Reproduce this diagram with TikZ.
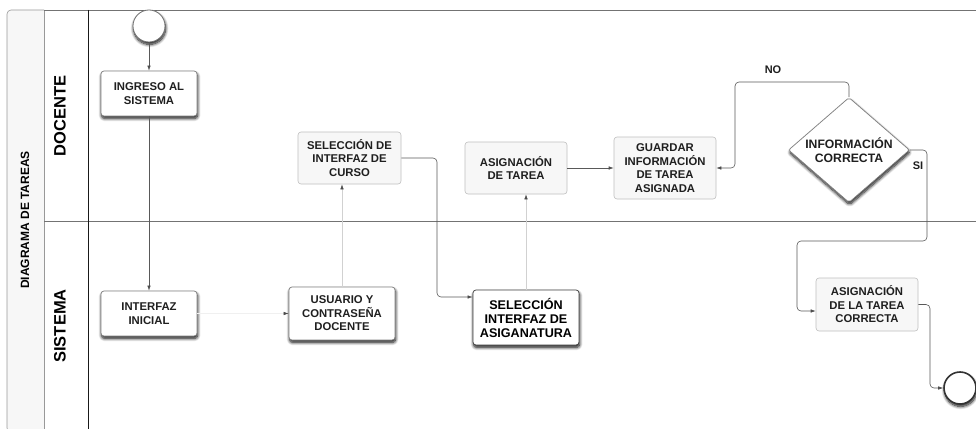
\documentclass[tikz,border=0pt]{standalone}
\usepackage{fontspec}
\setmainfont{Liberation Sans}
\usetikzlibrary{shapes.geometric,arrows.meta,shadows.blur}

\begin{document}
\begin{tikzpicture}[x=1pt,y=-1pt,
  font=\bfseries\fontsize{11.3}{13.5}\selectfont,
  text=black!88,
  sh/.style={blur shadow={shadow xshift=0.6pt, shadow yshift=-2.4pt, shadow blur steps=10, shadow blur radius=3pt, shadow opacity=95}},
  task/.style={draw=black!50, fill=white, rounded corners=3pt, align=center,
    inner sep=2pt, line width=0.7pt, sh},
  soft/.style={draw=black!25, fill=black!3, rounded corners=3pt, align=center,
    inner sep=2pt, line width=0.6pt},
  flow/.style={draw=black!65, line width=0.6pt, rounded corners=4pt,
    -{Latex[length=5pt,width=3.5pt,color=black!70]}},
  faint/.style={flow, draw=black!18},
  ghost/.style={flow, draw=black!6},
  lane/.style={font=\bfseries\fontsize{16.5}{18}\selectfont, text=black, rotate=90},
  tag/.style={font=\bfseries\fontsize{11}{13}\selectfont, text=black!88},
]
\useasboundingbox (0,0) rectangle (976,428);

% pool frame
\draw[draw=black!40, fill=black!3, line width=0.6pt, rounded corners=4pt]
  (44,432) -- (7,432) -- (7,10) -- (44,10);
\draw[draw=black!40, line width=0.6pt] (44,10) -- (44,432);
\draw[draw=black!55, line width=0.7pt] (44,10) -- (976,10);
\draw[draw=black!55, line width=0.9pt] (44,221) -- (976,221);
\draw[draw=black!90, line width=0.7pt] (88,10) -- (88,432);

% titles
\node[rotate=90, font=\bfseries\fontsize{12}{14}\selectfont, text=black] (title) at (25,220) {DIAGRAMA DE TAREAS};
\node[lane] (docente) at (60,116) {DOCENTE};
\node[lane] (sistema) at (60,326) {SISTEMA};

% events
\node[circle, draw=black!55, fill=white, line width=0.8pt, minimum size=32pt, inner sep=0pt, sh] (start) at (149,26) {};
\node[circle, draw=black!80, fill=white, line width=1.6pt, minimum size=32pt, inner sep=0pt, sh] (endc) at (960,388) {};

% tasks
\node[task, minimum width=96pt, minimum height=45pt] (ingreso) at (149,93.5) {INGRESO AL\\SISTEMA};
\node[task, minimum width=96pt, minimum height=45pt] (interfaz) at (149,313.5) {INTERFAZ\\INICIAL};
\node[task, minimum width=106pt, minimum height=53pt] (usuario) at (342,313.5) {USUARIO Y\\CONTRASEÑA\\DOCENTE};
\node[soft, minimum width=103pt, minimum height=52pt] (curso) at (349.5,158) {SELECCIÓN DE\\INTERFAZ DE\\CURSO};
\node[task, draw=black!75, minimum width=106pt, minimum height=55pt, text=black,
  font=\bfseries\fontsize{12.6}{14}\selectfont] (asig) at (526,317.5) {SELECCIÓN\\INTERFAZ DE\\ASIGANATURA};
\node[soft, minimum width=102pt, minimum height=52pt] (tarea) at (516,168) {ASIGNACIÓN\\DE TAREA};
\node[soft, minimum width=102pt, minimum height=62pt] (guardar) at (665,168) {GUARDAR\\INFORMACIÓN\\DE TAREA\\ASIGNADA};
\node[soft, minimum width=102pt, minimum height=53pt] (correcta) at (867,304.5) {ASIGNACIÓN\\DE LA TAREA\\CORRECTA};

% decision
\node[diamond, draw=black!50, fill=white, line width=0.7pt, minimum width=121pt,
  minimum height=105pt, inner sep=0pt, rounded corners=2pt, sh] (dec) at (849,150) {};
\node[align=center, font=\bfseries\fontsize{12.2}{14}\selectfont] (dectext) at (dec) {INFORMACIÓN\\CORRECTA};

% bend points
\coordinate (c1) at (437,158);
\coordinate (c2) at (437,297);
\coordinate (n1) at (849,82);
\coordinate (n2) at (735,82);
\coordinate (n3) at (735,168);
\coordinate (s1) at (927,150);
\coordinate (s2) at (927,241);
\coordinate (s3) at (797,241);
\coordinate (s4) at (797,311);
\coordinate (e1) at (930,304.5);
\coordinate (e2) at (930,388);

% connectors
\draw[flow] (start) -- (ingreso);
\draw[flow] (ingreso) -- (interfaz);
\draw[ghost] (interfaz.east) -- (usuario.west);
\draw[faint] (usuario.north) -- (usuario.north |- curso.south);
\draw[flow] (curso.east) -- (c1) -- (c2) -- (c2 -| asig.west);
\draw[faint] (asig.north) -- (asig.north |- tarea.south);
\draw[flow] (tarea.east) -- (guardar.west);
\draw[flow] (dec.north) -- (n1) -- (n2) -- (n3) -- (guardar.east);
\draw[flow] (dec.east) -- (s1) -- (s2) -- (s3) -- (s4) -- (s4 -| correcta.west);
\draw[flow] (correcta.east) -- (e1) -- (e2) -- (endc.west);

% branch labels
\node[tag] (no) at (773,70) {NO};
\node[tag] (si) at (918,166) {SI};
\end{tikzpicture}
\end{document}
